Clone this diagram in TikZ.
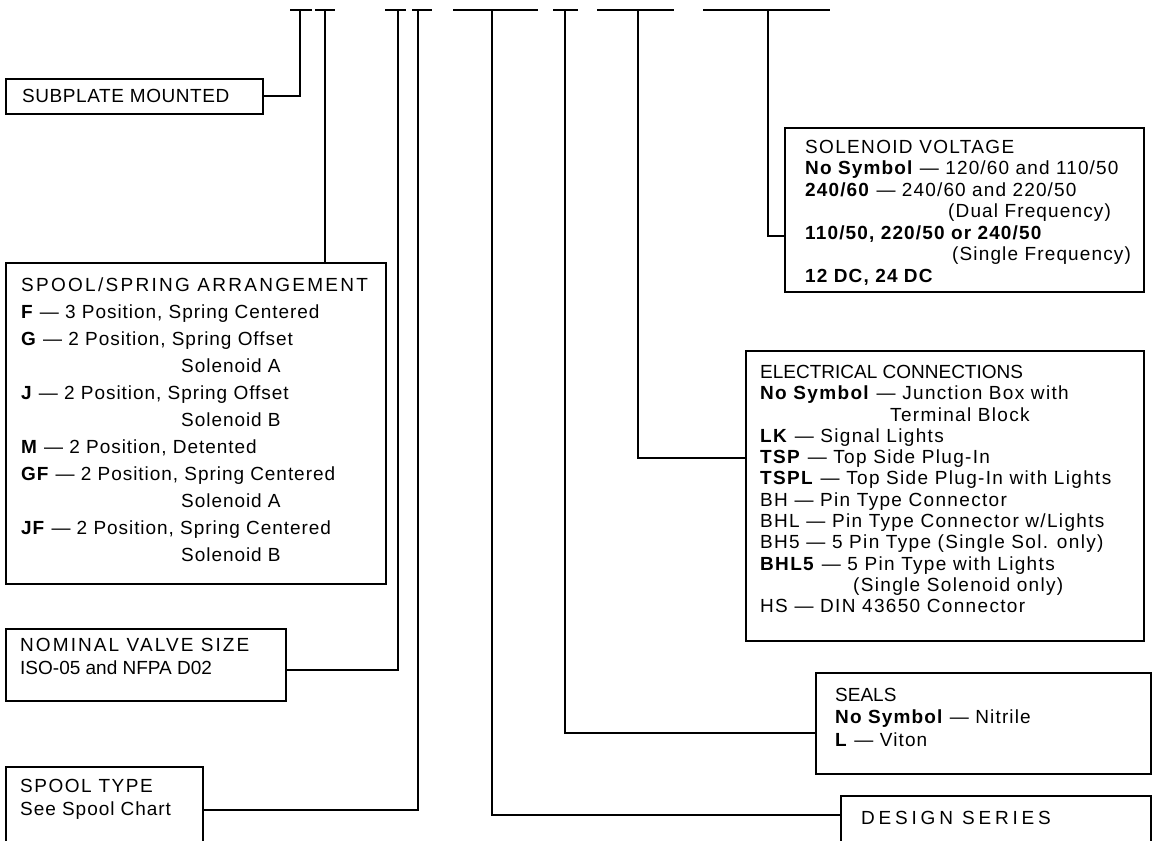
\documentclass[tikz,border=0pt]{standalone}
\usepackage{fontspec}
\setmainfont{Liberation Sans}
\usetikzlibrary{positioning}

% headings: own letter spacing for each box
\newcommand{\hd}[2][8]{{\addfontfeatures{LetterSpace=#1}#2}}
\newcommand{\cd}[1]{\textbf{#1}}
\newcommand{\boxfont}[1]{\fontsize{19}{#1}\selectfont\addfontfeatures{LetterSpace=6}}

\begin{document}
\begin{tikzpicture}[
  x=1pt, y=-1pt,
  box/.style={rectangle, draw=black, line width=1.7pt, anchor=north west, inner sep=0pt},
  txt/.style={anchor=north west, align=left, inner sep=0pt, font=\boxfont{21.5}},
  link/.style={draw=black, line width=1.7pt},
  topbar/.style={draw=black, line width=1.9pt}
]
\useasboundingbox (0,0) rectangle (1155,840);

% Model code bars (top)
\foreach \n/\vx/\l/\r in {1/300/10/12, 2/325/10/10, 3/398/13/8, 4/418/6/14,
                          5/492/39/46, 6/565/12/13, 7/638/41/36, 8/768/65/62} {
  \coordinate (t\n) at (\vx,10);
  \draw[topbar] (\vx-\l,10) -- (\vx+\r,10);
}

% Boxes
\node[box, minimum width=257pt, minimum height=35pt] (subplate) at (5,78) {};
\node[txt] (subplatetxt) at (22,89) {\hd[3]{SUBPLATE MOUNTED}};

\node[box, minimum width=380pt, minimum height=321pt] (spring) at (5,262) {};
\node[txt, font=\boxfont{27}\addfontfeatures{LetterSpace=5}] (springtxt) at (21,278) {%
  \hd[12]{SPOOL/SPRING ARRANGEMENT}\\
  \cd{F} \textemdash{} 3 Position, Spring Centered\\
  \cd{G} \textemdash{} 2 Position, Spring Offset\\
  \hspace*{160pt}Solenoid A\\
  \cd{J} \textemdash{} 2 Position, Spring Offset\\
  \hspace*{160pt}Solenoid B\\
  \cd{M} \textemdash{} 2 Position, Detented\\
  \cd{GF} \textemdash{} 2 Position, Spring Centered\\
  \hspace*{160pt}Solenoid A\\
  \cd{JF} \textemdash{} 2 Position, Spring Centered\\
  \hspace*{160pt}Solenoid B};

\node[box, minimum width=280pt, minimum height=72pt] (nominal) at (5,628) {};
\node[txt, font=\boxfont{23}\addfontfeatures{LetterSpace=0}] (nominaltxt) at (20,638) {%
  \hd[11]{NOMINAL VALVE SIZE}\\
  ISO-05 and NFPA D02};

\node[box, minimum width=197pt, minimum height=95pt] (spooltype) at (5,766) {};
\node[txt, font=\boxfont{23}\addfontfeatures{LetterSpace=5}] (spooltypetxt) at (20,779) {%
  \hd[8]{SPOOL TYPE}\\
  See Spool Chart};

\node[box, minimum width=359pt, minimum height=164pt] (voltage) at (784,127) {};
\node[txt, font=\boxfont{21.5}] (voltagetxt) at (805,140) {%
  \hd[7]{SOLENOID VOLTAGE}\\
  \cd{No Symbol} \textemdash{} 120/60 and 110/50\\
  \cd{240/60} \textemdash{} 240/60 and 220/50\\
  \hspace*{143pt}(Dual Frequency)\\
  \cd{110/50, 220/50 or 240/50}\\
  \hspace*{147pt}(Single Frequency)\\
  \cd{12 DC, 24 DC}};

\node[box, minimum width=398pt, minimum height=290pt] (electric) at (745,350) {};
\node[txt, font=\boxfont{21.3}\addfontfeatures{LetterSpace=7}] (electrictxt) at (760,365) {%
  \hd[0]{ELECTRICAL CONNECTIONS}\\
  \cd{No Symbol} \textemdash{} Junction Box with\\
  \hspace*{130pt}Terminal Block\\
  \cd{LK} \textemdash{} Signal Lights\\
  \cd{TSP} \textemdash{} Top Side Plug-In\\
  \cd{TSPL} \textemdash{} Top Side Plug-In with Lights\\
  BH \textemdash{} Pin Type Connector\\
  BHL \textemdash{} Pin Type Connector w/Lights\\
  BH5 \textemdash{} 5 Pin Type (Single Sol. only)\\
  \cd{BHL5} \textemdash{} 5 Pin Type with Lights\\
  \hspace*{93pt}(Single Solenoid only)\\
  HS \textemdash{} DIN 43650 Connector};

\node[box, minimum width=335pt, minimum height=101pt] (seals) at (815,672) {};
\node[txt, font=\boxfont{22.5}] (sealstxt) at (835,688) {%
  \hd[0]{SEALS}\\
  \cd{No Symbol} \textemdash{} Nitrile\\
  \cd{L} \textemdash{} Viton};

\node[box, minimum width=310pt, minimum height=80pt] (design) at (840,795) {};
\node[txt] (designtxt) at (861,811) {\hd[20]{DESIGN SERIES}};

% Junctions on the box edges
\coordinate (nominalj) at (nominal.east |- 0,670);
\coordinate (spooltypej) at (spooltype.east |- 0,810);
\coordinate (designj) at (design.west |- 0,815);
\coordinate (sealsj) at (seals.west |- 0,733);
\coordinate (electricj) at (electric.west |- 0,458);
\coordinate (voltagej) at (voltage.west |- 0,236);

% Leader lines
\draw[link] (subplate.east) -| (t1);
\draw[link] (t2) -- (t2 |- spring.north);
\draw[link] (nominalj) -| (t3);
\draw[link] (spooltypej) -| (t4);
\draw[link] (designj) -| (t5);
\draw[link] (sealsj) -| (t6);
\draw[link] (electricj) -| (t7);
\draw[link] (voltagej) -| (t8);

\end{tikzpicture}
\end{document}
